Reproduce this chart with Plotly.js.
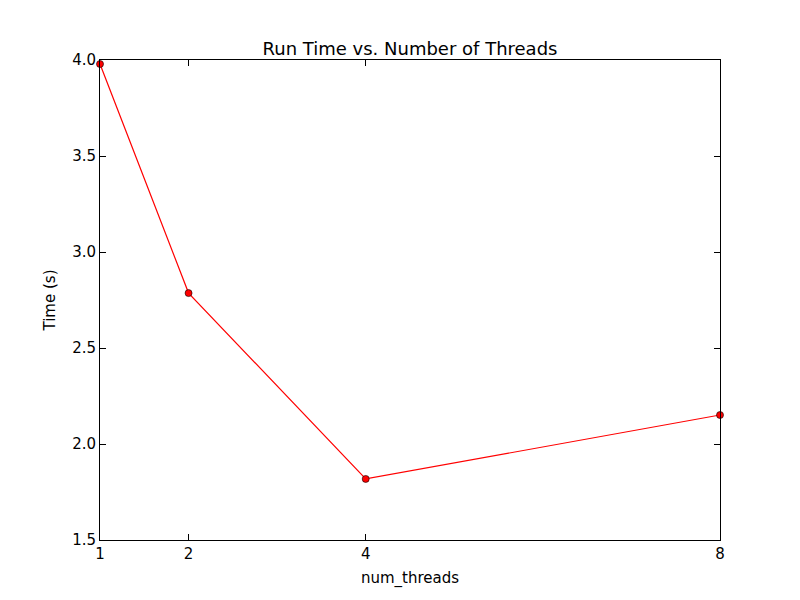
<!DOCTYPE html>
<html><head><script src="https://cdn.plot.ly/plotly-3.0.1.min.js"></script></head>
<body style="margin:0">
<div id="c" style="width:800px;height:600px"></div>
<script>
const threads = [1, 2, 4, 8];
const times = [3.979, 2.786, 1.818, 2.151];
const xTicks = [1, 2, 4, 8];
const yTicks = [1.5, 2.0, 2.5, 3.0, 3.5, 4.0];
const ax = {showgrid:false, zeroline:false, showline:true, mirror:'ticks', linecolor:'black', linewidth:1,
  ticks:'inside', ticklen:6, tickcolor:'black', tickfont:{size:15,color:'black'}};
Plotly.newPlot('c', [{x:threads, y:times, mode:'lines+markers', line:{color:'red',width:1.2},
  marker:{color:'red',size:7,line:{color:'black',width:0.6}}, cliponaxis:false}], {
  width:800, height:600, showlegend:false,
  font:{family:'DejaVu Sans', color:'black'},
  margin:{l:100, r:80, t:60, b:60},
  title:{text:'Run Time vs. Number of Threads', font:{size:18}, x:0.5, xref:'paper', yref:'paper', y:1, yanchor:'bottom', pad:{b:5}},
  xaxis:Object.assign({}, ax, {range:[1,8], tickvals:xTicks, ticktext:xTicks.map(String),
    title:{text:'num_threads', font:{size:15}, standoff:10}}),
  yaxis:Object.assign({}, ax, {range:[1.5,4.0], tickvals:yTicks, ticktext:yTicks.map(v=>v.toFixed(1)),
    title:{text:'Time (s)', font:{size:15}, standoff:12}}),
  plot_bgcolor:'white', paper_bgcolor:'white'
}, {displayModeBar:false});
</script></body></html>
